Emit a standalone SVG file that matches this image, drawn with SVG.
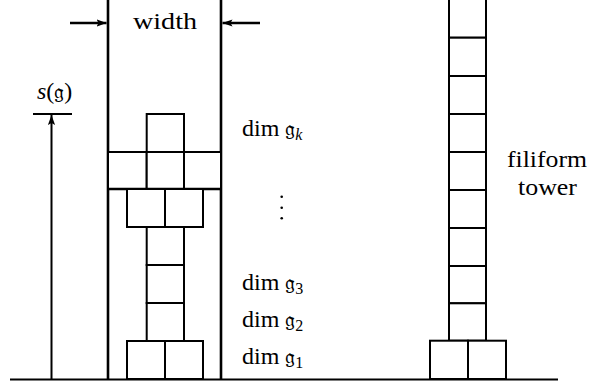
<svg xmlns="http://www.w3.org/2000/svg" width="589" height="383" viewBox="0 0 589 383">
<defs>
<style>
.l{stroke:#000;stroke-width:2;fill:none}
.w{stroke:#000;stroke-width:2.6;fill:none}
.b{stroke:#000;stroke-width:2;fill:#fff}
.t{font-family:"Liberation Serif","DejaVu Serif",serif;font-size:24px;fill:#000}
.fr{font-family:"DejaVu Sans","DejaVu Serif","Noto Sans",serif;font-size:22px}
.sub{font-size:16px}
</style>
<marker id="ah" viewBox="0 0 10 10" refX="10" refY="5" markerWidth="10" markerHeight="8" orient="auto" markerUnits="userSpaceOnUse" preserveAspectRatio="none">
<path d="M0,0.5 L10,5 L0,9.5 L2,5 Z" fill="#000"/>
</marker>
</defs>
<rect width="589" height="383" fill="#fff"/>
<g id="connectors">
<line class="l" x1="10" y1="379.5" x2="558" y2="379.5"/>
<line class="w" x1="108" y1="0" x2="108" y2="379"/>
<line class="w" x1="221" y1="0" x2="221" y2="379"/>
<line class="w" x1="70" y1="23" x2="106.5" y2="23" marker-end="url(#ah)"/>
<line class="w" x1="260" y1="23" x2="222.5" y2="23" marker-end="url(#ah)"/>
<line class="l" x1="33" y1="114" x2="72" y2="114"/>
<line class="l" x1="51.5" y1="379" x2="51.5" y2="115" marker-end="url(#ah)"/>
</g>
<g id="tower-left">
<rect class="b" x="146.7" y="114" width="37.3" height="38"/>
<rect class="b" x="108" y="152" width="38.7" height="37"/>
<rect class="b" x="146.7" y="152" width="37.3" height="37"/>
<rect class="b" x="184" y="152" width="37" height="37"/>
<line class="l" x1="108" y1="189" x2="221" y2="189" style="stroke-width:2.5"/>
<rect class="b" x="127" y="189" width="38" height="38"/>
<rect class="b" x="165" y="189" width="38" height="38"/>
<rect class="b" x="146.7" y="227" width="37.3" height="38"/>
<rect class="b" x="146.7" y="265" width="37.3" height="38"/>
<rect class="b" x="146.7" y="303" width="37.3" height="38"/>
<rect class="b" x="127" y="341" width="38" height="38"/>
<rect class="b" x="165" y="341" width="38" height="38"/>
</g>
<g id="tower-right">
<rect class="b" x="449" y="-1" width="37" height="38.7"/>
<rect class="b" x="449" y="37.7" width="37" height="38.3"/>
<rect class="b" x="449" y="76" width="37" height="38"/>
<rect class="b" x="449" y="114" width="37" height="38"/>
<rect class="b" x="449" y="152" width="37" height="38"/>
<rect class="b" x="449" y="190" width="37" height="38"/>
<rect class="b" x="449" y="228" width="37" height="38"/>
<rect class="b" x="449" y="266" width="37" height="37.3"/>
<rect class="b" x="449" y="303.3" width="37" height="37.4"/>
<rect class="b" x="430" y="340.7" width="38" height="38.3"/>
<rect class="b" x="468" y="340.7" width="38" height="38.3"/>
</g>
<g id="labels">
<text class="t" x="133" y="29" textLength="64" lengthAdjust="spacingAndGlyphs">width</text>
<text class="t" x="37" y="99"><tspan font-style="italic">s</tspan>(<tspan class="fr">𝔤</tspan>)</text>
<text class="t" x="242" y="136">dim <tspan class="fr">𝔤</tspan><tspan class="sub" font-style="italic" dy="4">k</tspan></text>
<text class="t" x="242" y="290">dim <tspan class="fr">𝔤</tspan><tspan class="sub" dy="4">3</tspan></text>
<text class="t" x="242" y="327">dim <tspan class="fr">𝔤</tspan><tspan class="sub" dy="4">2</tspan></text>
<text class="t" x="242" y="364">dim <tspan class="fr">𝔤</tspan><tspan class="sub" dy="4">1</tspan></text>
<circle cx="281.7" cy="196.7" r="1.3"/>
<circle cx="281.7" cy="207.7" r="1.3"/>
<circle cx="281.7" cy="218.3" r="1.3"/>
<text class="t" x="507" y="167" textLength="80" lengthAdjust="spacingAndGlyphs">filiform</text>
<text class="t" x="518" y="195" textLength="59" lengthAdjust="spacingAndGlyphs">tower</text>
</g>
</svg>
